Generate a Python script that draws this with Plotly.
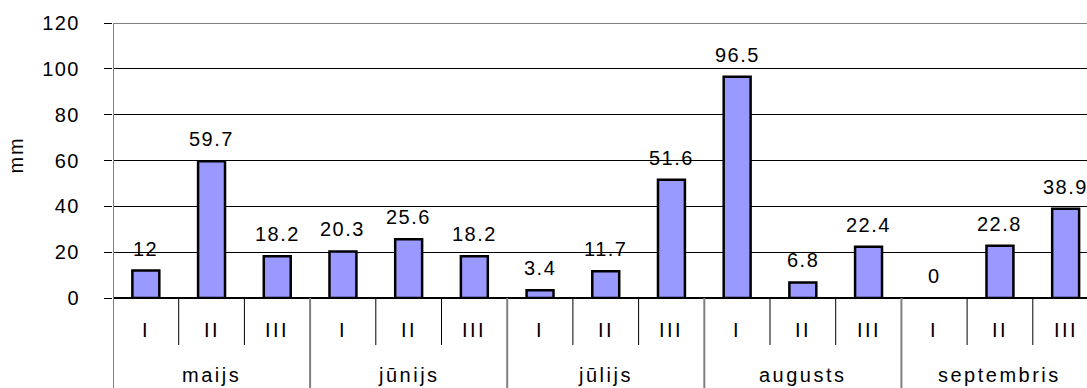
import plotly.graph_objects as go

# Ten-day (dekāde) precipitation totals, May–September
months = ["maijs", "jūnijs", "jūlijs", "augusts", "septembris"]
dekades = ["I", "II", "III"]
precip_mm = [12, 59.7, 18.2, 20.3, 25.6, 18.2, 3.4, 11.7, 51.6, 96.5, 6.8, 22.4, 0, 22.8, 38.9]
value_labels = ["12", "59.7", "18.2", "20.3", "25.6", "18.2", "3.4", "11.7", "51.6",
                "96.5", "6.8", "22.4", "0", "22.8", "38.9"]
y_ticks = [0, 20, 40, 60, 80, 100, 120]

FONT = "Liberation Sans, Arial, sans-serif"
n = len(precip_mm)
x_pos = list(range(n))


def spaced(text, px):
    """Wrap text in a span with extra letter spacing."""
    return f'<span style="letter-spacing:{px}px">{text}</span>'


fig = go.Figure(
    go.Bar(
        x=x_pos,
        y=precip_mm,
        width=0.41,
        marker=dict(color="#9999FF",
                    line=dict(color="black", width=[2.5 if v else 0 for v in precip_mm])),
        hoverinfo="skip",
    )
)

annotations = []
# value labels above each bar
for i, (v, lab) in enumerate(zip(precip_mm, value_labels)):
    annotations.append(dict(
        x=i, y=v, xref="x", yref="y", text=spaced(lab, 1.5), showarrow=False,
        yanchor="bottom", yshift=9, font=dict(size=20, color="black", family=FONT),
    ))

# dekāde labels (I, II, III) under each bar
for i in range(n):
    annotations.append(dict(
        x=i, y=-0.116, xref="x", yref="paper", text=spaced(dekades[i % 3], 2.5),
        showarrow=False, yanchor="middle",
        font=dict(size=20, color="black", family=FONT),
    ))

# month labels centred under each group of three
for m, name in enumerate(months):
    annotations.append(dict(
        x=3 * m + 1, y=-0.28, xref="x", yref="paper", text=spaced(name, 2.5),
        showarrow=False, yanchor="middle",
        font=dict(size=20, color="black", family=FONT),
    ))

# y axis title
annotations.append(dict(
    x=-0.1, y=0.52, xref="paper", yref="paper", text=spaced("mm", 2), textangle=-90,
    showarrow=False, xanchor="center", yanchor="middle",
    font=dict(size=20, color="black", family=FONT),
))

shapes = []
# thin separators between dekādes
for i in range(n - 1):
    if (i + 1) % 3 != 0:
        shapes.append(dict(type="line", xref="x", yref="paper",
                           x0=i + 0.5, x1=i + 0.5, y0=0, y1=-0.171,
                           line=dict(color="black", width=1)))
# month separators running to the bottom edge
for m in range(len(months) + 1):
    xb = 3 * m - 0.5
    shapes.append(dict(type="line", xref="x", yref="paper",
                       x0=xb, x1=xb, y0=0 if m else 1, y1=-0.33,
                       line=dict(color="#808080", width=2)))
# top border of the plot area
shapes.append(dict(type="line", xref="paper", yref="y", x0=0, x1=1, y0=120, y1=120,
                   line=dict(color="#808080", width=2)))

fig.update_layout(
    width=1087, height=388,
    margin=dict(l=113, r=0, t=23, b=90),
    paper_bgcolor="white", plot_bgcolor="white",
    showlegend=False,
    annotations=annotations,
    shapes=shapes,
    font=dict(family=FONT, size=20, color="black"),
    xaxis=dict(range=[-0.5, 14.325], showticklabels=False, showgrid=False,
               zeroline=False, showline=False, ticks="", fixedrange=True),
    yaxis=dict(range=[0, 120], tickvals=y_ticks,
               ticktext=[spaced(t, 1.5) for t in y_ticks],
               ticks="outside", ticklen=8,
               tickcolor="black", tickwidth=1, showgrid=True, gridcolor="black",
               gridwidth=1, zeroline=True, zerolinecolor="black", zerolinewidth=1.5,
               showline=False, ticklabelstandoff=20,
               tickfont=dict(size=20, color="black", family=FONT), fixedrange=True),
)

fig.write_html("out.html")
